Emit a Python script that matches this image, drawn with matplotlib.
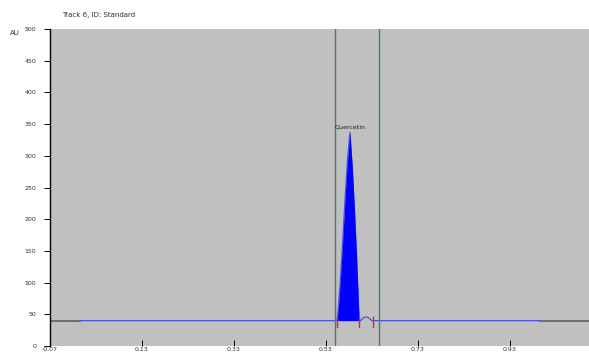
import matplotlib
matplotlib.use("Agg")
import matplotlib.pyplot as plt
import numpy as np

title = "Track 6, ID: Standard"
y_unit = "AU"
peak_name = "Quercetin"

x_ticks = [-0.07, 0.13, 0.33, 0.53, 0.73, 0.93]
x_tick_labels = ["-0.07", "0.13", "0.33", "0.53", "0.73", "0.93"]
y_ticks = [0, 50, 100, 150, 200, 250, 300, 350, 400, 450, 500]
y_tick_labels = ["0", "50", "100", "150", "200", "250", "300", "350", "400", "450", "500"]

# chromatogram signal (Rf vs AU)
rf = [-0.005, 0.554, 0.557, 0.561, 0.566, 0.571, 0.576, 0.582, 0.587, 0.592, 0.597, 0.602,
      0.606, 0.612, 0.618, 0.624, 0.630, 0.995]
au = [40, 40, 60, 100, 160, 225, 285, 337, 285, 215, 135, 42,
      40, 45, 46, 44, 40, 40]
baseline = 40
peak_start, peak_end = 0.554, 0.602
peak_apex_rf, peak_apex_au = 0.582, 337
integration_marks = [0.554, 0.602, 0.632]
window_lines = [0.549, 0.645]
xlim = (-0.07, 1.102)
ylim = (0, 500)

fig = plt.figure(figsize=(5.89, 3.55), dpi=100)
ax = fig.add_axes([50/589, 9/355, 539/589, 317/355])
ax.set_facecolor("#c0c0c0")

# grey baseline outside the track
ax.plot([xlim[0], rf[0]], [baseline, baseline], color="#606060", lw=1.2, zorder=2)
ax.plot([rf[-1], xlim[1]], [baseline, baseline], color="#606060", lw=1.2, zorder=2)

rf_a = np.array(rf); au_a = np.array(au)
ax.plot(rf_a, au_a, color="#5050e0", lw=0.9, zorder=3)
mask = (rf_a >= peak_start) & (rf_a <= peak_end)
ax.fill_between(rf_a[mask], baseline, au_a[mask], color="#0000ff", lw=0, zorder=3)

for xm in integration_marks:
    ax.plot([xm, xm], [baseline - 10, baseline + 5], color="#e82020", lw=1.0, zorder=4)

for xv in window_lines:
    ax.axvline(xv, color="#3c8078", lw=1.0, zorder=5)

ax.text(peak_apex_rf, peak_apex_au + 5, peak_name, ha="center", va="bottom",
        fontsize=4.5, color="#202020", zorder=6)

ax.set_xlim(*xlim)
ax.set_ylim(*ylim)
ax.set_xticks(x_ticks)
ax.set_xticklabels(x_tick_labels, fontsize=4.5, color="#303030")
ax.set_yticks(y_ticks)
ax.set_yticklabels(y_tick_labels, fontsize=4.5, color="#303030")
ax.tick_params(axis="y", direction="out", length=4, width=0.7, pad=6)
ax.tick_params(axis="x", direction="in", length=4, width=0.7, pad=0.5)
for s in ["top", "right", "bottom"]:
    ax.spines[s].set_visible(False)
ax.spines["left"].set_linewidth(1.0)

fig.text(62/589, 1 - 15/355, title, fontsize=5, color="#303030", va="center")
fig.text(10/589, 1 - 33/355, y_unit, fontsize=5, color="#303030", va="center")

fig.savefig("out.png", dpi=100, facecolor="white")
